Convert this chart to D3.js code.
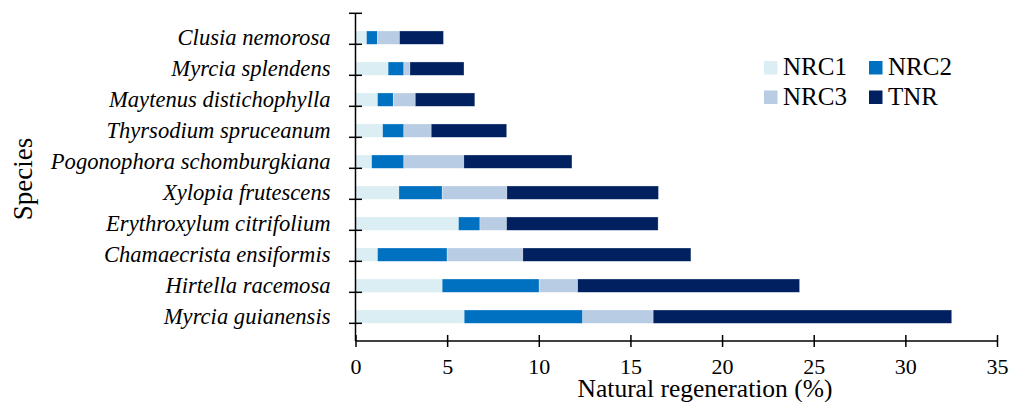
<!DOCTYPE html>
<html>
<head>
<meta charset="utf-8">
<script src="https://cdn.jsdelivr.net/npm/d3@7"></script>
<style>
  body { margin: 0; background: #fff; }
</style>
</head>
<body>
<div id="chart"></div>
<script>
// top to bottom, as in the figure
var species = ["Clusia nemorosa", "Myrcia splendens", "Maytenus distichophylla", "Thyrsodium spruceanum",
  "Pogonophora schomburgkiana", "Xylopia frutescens", "Erythroxylum citrifolium", "Chamaecrista ensiformis",
  "Hirtella racemosa", "Myrcia guianensis"];
var nrc1 = [0.6, 1.78, 1.2, 1.48, 0.88, 2.37, 5.62, 1.2, 4.73, 5.93];
var nrc2 = [0.6, 0.86, 0.86, 1.16, 1.76, 2.36, 1.17, 3.8, 5.29, 6.47];
var nrc3 = [1.2, 0.33, 1.2, 1.49, 3.27, 3.53, 1.45, 4.13, 2.1, 3.84];
var tnr  = [2.4, 2.95, 3.25, 4.12, 5.9, 8.27, 8.27, 9.17, 12.11, 16.29];
var keys = ["NRC1", "NRC2", "NRC3", "TNR"];
var xTicks = [0, 5, 10, 15, 20, 25, 30, 35];

(function() {
  var width = 1011, height = 402;
  var margin = { top: 13.3, left: 355.5, right: 14, bottom: 61 };
  var innerW = width - margin.left - margin.right,
      innerH = height - margin.top - margin.bottom;
  var serif = "'Liberation Serif', 'Times New Roman', Times, serif";

  var colors = d3.scaleOrdinal()
    .domain(keys)
    .range(["#daeef3", "#0070c0", "#b8cce4", "#002060"]);

  var rows = species.map(function(s, i) {
    return { name: s, NRC1: nrc1[i], NRC2: nrc2[i], NRC3: nrc3[i], TNR: tnr[i] };
  });

  var svg = d3.select("#chart").append("svg")
    .attr("width", width)
    .attr("height", height)
    .style("font-family", serif);

  var g = svg.append("g")
    .attr("transform", "translate(" + margin.left + "," + margin.top + ")");

  var x = d3.scaleLinear().domain([0, 35]).range([0, innerW]);
  var y = d3.scaleBand().domain(species).range([0, innerH]).padding(0.57);

  var stacked = d3.stack().keys(keys)(rows);

  g.selectAll(".layer")
    .data(stacked)
    .enter().append("g")
    .attr("class", "layer")
    .attr("fill", function(d) { return colors(d.key) })
    .selectAll("rect")
    .data(function(d) { return d })
    .enter().append("rect")
    .attr("x", function(d) { return x(d[0]) })
    .attr("width", function(d) { return x(d[1]) - x(d[0]) })
    .attr("y", function(d) { return y(d.data.name) })
    .attr("height", y.bandwidth())
    .attr("stroke", "#fff")
    .attr("stroke-opacity", 0.5)
    .attr("stroke-width", 0.6);

  // x axis
  var xAxis = g.append("g")
    .attr("transform", "translate(0," + innerH + ")")
    .call(d3.axisBottom(x).tickValues(xTicks).tickSize(0).tickPadding(0));
  xAxis.attr("font-family", null);
  xAxis.select(".domain").remove();
  xAxis.selectAll(".tick text")
    .attr("y", 33).attr("dy", 0)
    .style("font-family", serif)
    .style("font-size", "22px");
  xAxis.append("line")
    .attr("x1", 0).attr("x2", innerW)
    .attr("stroke", "#000").attr("stroke-width", 1.5);
  xAxis.selectAll(".tick").append("line")
    .attr("y1", -6).attr("y2", 6)
    .attr("stroke", "#000").attr("stroke-width", 1.5);

  // y axis, ticks sit between the categories
  var yAxis = g.append("g")
    .call(d3.axisLeft(y).tickSize(0).tickPadding(25));
  yAxis.attr("font-family", null);
  yAxis.select(".domain").remove();
  yAxis.selectAll(".tick text")
    .style("font-family", serif)
    .style("font-size", "22.6px")
    .style("font-style", "italic")
    .attr("dy", "0.33em");
  yAxis.append("line")
    .attr("y1", 0).attr("y2", innerH)
    .attr("stroke", "#000").attr("stroke-width", 1.5);
  yAxis.selectAll(".sep")
    .data(d3.range(species.length + 1))
    .enter().append("line")
    .attr("class", "sep")
    .attr("x1", -6.5).attr("x2", 6.5)
    .attr("y1", function(i) { return i * y.step() })
    .attr("y2", function(i) { return i * y.step() })
    .attr("stroke", "#000").attr("stroke-width", 1.5);

  // axis titles
  svg.append("text")
    .attr("x", 705).attr("y", 396.5)
    .attr("text-anchor", "middle")
    .style("font-family", serif)
    .style("font-size", "25.5px")
    .text("Natural regeneration (%)");

  svg.append("text")
    .attr("transform", "translate(32,179) rotate(-90)")
    .attr("text-anchor", "middle")
    .style("font-family", serif)
    .style("font-size", "27px")
    .text("Species");

  // legend
  var legend = svg.append("g").attr("transform", "translate(764,61)");
  var item = legend.selectAll(".item")
    .data(keys)
    .enter().append("g")
    .attr("class", "item")
    .attr("transform", function(d, i) {
      return "translate(" + (i % 2) * 105 + "," + Math.floor(i / 2) * 29.5 + ")";
    });
  item.append("rect")
    .attr("width", 13.5).attr("height", 13.5)
    .attr("fill", function(d) { return colors(d) });
  item.append("text")
    .attr("x", 19).attr("y", 14)
    .style("font-family", serif)
    .style("font-size", "25px")
    .text(function(d) { return d });
})();
</script>
</body>
</html>
